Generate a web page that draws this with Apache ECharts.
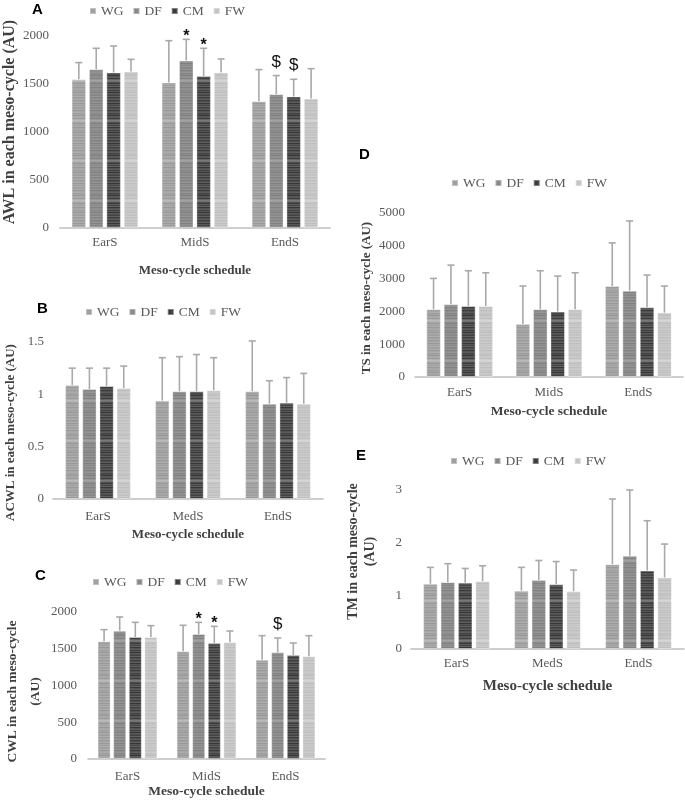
<!DOCTYPE html>
<html><head><meta charset="utf-8">
<script src="https://cdn.jsdelivr.net/npm/echarts@6/dist/echarts.min.js"></script>
<style>html,body{margin:0;padding:0;background:#fff}#c{width:685px;height:801px}</style>
</head><body><div id="c"></div>
<script>
// ---------------- DATA ----------------
const groups = ['WG', 'DF', 'CM', 'FW'];
const catsMid = ['EarS', 'MidS', 'EndS'];
const catsMed = ['EarS', 'MedS', 'EndS'];

// A: AWL (rows = WG, DF, CM, FW ; cols = categories)
const awlMeans = [[1549, 1515, 1321], [1653, 1744, 1393], [1619, 1584, 1369], [1629, 1619, 1348]];
const awlSD    = [[174, 436, 329], [219, 221, 195], [277, 288, 180], [128, 142, 312]];
const awlMarks = [['MidS', 'DF', '*'], ['MidS', 'CM', '*'], ['EndS', 'DF', '$'], ['EndS', 'CM', '$']];

// B: ACWL
const acwlMeans = [[1.09, 0.94, 1.03], [1.05, 1.03, 0.91], [1.08, 1.03, 0.92], [1.06, 1.04, 0.91]];
const acwlSD    = [[0.16, 0.41, 0.48], [0.20, 0.33, 0.22], [0.17, 0.35, 0.24], [0.21, 0.31, 0.29]];
const acwlMarks = [];

// C: CWL
const cwlMeans = [[1601, 1465, 1351], [1746, 1701, 1451], [1660, 1578, 1415], [1660, 1587, 1397]];
const cwlSD    = [[159, 354, 327], [186, 158, 195], [199, 227, 163], [154, 154, 281]];
const cwlMarks = [['MidS', 'DF', '*'], ['MidS', 'CM', '*'], ['EndS', 'DF', '$']];

// D: TS
const tsMeans = [[2065, 1619, 2773], [2217, 2065, 2632], [2166, 1994, 2126], [2166, 2065, 1964]];
const tsSD    = [[941, 1154, 1316], [1194, 1174, 2125], [1073, 1083, 981], [1012, 1113, 809]];
const tsMarks = [];

// E: TM
const tmMeans = [[1.23, 1.10, 1.60], [1.26, 1.30, 1.76], [1.25, 1.22, 1.48], [1.28, 1.09, 1.35]];
const tmSD    = [[0.31, 0.44, 1.23], [0.35, 0.37, 1.24], [0.27, 0.43, 0.94], [0.29, 0.40, 0.63]];
const tmMarks = [];

// axis scales
const yMaxes = [2000, 1.5, 2000, 5000, 3];
const yIntervals = [500, 0.5, 500, 1000, 1];

// ---------------- STYLE ----------------
const SERIF = 'Liberation Serif';
const SANS = 'Liberation Sans';
const baseShade = [0xa4, 0x8c, 0x4e, 0xc6];
const contrast = [1, 1, 1.9, 0.7];
const legendColors = ['#a0a0a0', '#888888', '#3c3c3c', '#c4c4c4'];
const stripeOffsets = [22, 18, 0, -10, 6, -4, 10, -12, 2, 8, -8, 4, -12, 6, 0, -6, 10, -10, 2, 6, -8, 0, 8, -12, 4, -4, 10, -8, 0, 6, -10, 2, 8, -6, 0, -12, 6, 4, -8, 10];

function hex(v) { v = Math.max(0, Math.min(255, Math.round(v))); return v.toString(16).padStart(2, '0'); }
function makePattern(gi) {
  const cv = document.createElement('canvas');
  cv.width = 4; cv.height = stripeOffsets.length;
  const ctx = cv.getContext('2d');
  stripeOffsets.forEach((o, i) => {
    const v = baseShade[gi] + o * contrast[gi];
    ctx.fillStyle = '#' + hex(v) + hex(v) + hex(v);
    ctx.fillRect(0, i, 4, 1);
  });
  return cv;
}
const patterns = groups.map((g, i) => makePattern(i));

const panels = [
  { letter: 'A', cats: catsMid, means: awlMeans, sd: awlSD, marks: awlMarks,
    grid: { left: 54, top: 36, width: 276, height: 192 }, bw: 14.5,
    yName: 'AWL in each meso-cycle (AU)', yNameSize: 16, yGap: 33, yPad: [0, 0, 0, 20], yLH: 18,
    xGap: 36, xNameSize: 13, labelMargin: 8, yLabelMargin: 11,
    title: [32, 2], legend: [89, 4] },
  { letter: 'B', cats: catsMed, means: acwlMeans, sd: acwlSD, marks: acwlMarks,
    grid: { left: 53, top: 342, width: 270, height: 157 }, bw: 14.3,
    yName: 'ACWL in each meso-cycle (AU)', yNameSize: 13, yGap: 35, yPad: [0, 24, 0, 0], yLH: 15,
    xGap: 29, xNameSize: 13, labelMargin: 11, yLabelMargin: 9,
    title: [37, 301], legend: [85, 305] },
  { letter: 'C', cats: catsMid, means: cwlMeans, sd: cwlSD, marks: cwlMarks,
    grid: { left: 85, top: 612, width: 240, height: 147 }, bw: 13,
    yName: 'CWL in each meso-cycle\n(AU)', yNameSize: 13.5, yGap: 41, yPad: [0, 12, 0, 0], yLH: 23,
    xGap: 26, xNameSize: 13.5, labelMargin: 11, yLabelMargin: 11,
    title: [35, 568], legend: [92, 575] },
  { letter: 'D', cats: catsMid, means: tsMeans, sd: tsSD, marks: tsMarks,
    grid: { left: 415, top: 213, width: 268, height: 164 }, bw: 14.5,
    yName: 'TS in each meso-cycle (AU)', yNameSize: 13, yGap: 41, yPad: [0, 6, 0, 0], yLH: 15,
    xGap: 28, xNameSize: 13.5, labelMargin: 9, yLabelMargin: 10,
    title: [359, 147], legend: [451, 176] },
  { letter: 'E', cats: catsMed, means: tmMeans, sd: tmSD, marks: tmMarks,
    grid: { left: 411, top: 490, width: 273, height: 159 }, bw: 14.5,
    yName: 'TM in each meso-cycle\n(AU)', yNameSize: 14, yGap: 32, yPad: [0, 0, 0, 36], yLH: 17,
    xGap: 30, xNameSize: 15, labelMargin: 8, yLabelMargin: 9,
    title: [356, 448], legend: [450, 454] }
];

const GAP_RATIO = 0.2;

function errRender(bw) {
  const step = bw * (1 + GAP_RATIO);
  return function (params, api) {
    const c = api.value(0), m = api.value(1), s = api.value(2), g = api.value(3);
    const p0 = api.coord([c, m]);
    const p1 = api.coord([c, m + s]);
    const x = p0[0] + (g - 1.5) * step;
    const st = { stroke: '#a9a9a9', lineWidth: 1.6 };
    return { type: 'group', children: [
      { type: 'line', shape: { x1: x, y1: p0[1], x2: x, y2: p1[1] }, style: st },
      { type: 'line', shape: { x1: x - 3.5, y1: p1[1], x2: x + 3.5, y2: p1[1] }, style: st }
    ] };
  };
}
const markSyms = {};
function markRender(bw) {
  const step = bw * (1 + GAP_RATIO);
  return function (params, api) {
    const c = api.value(0), top = api.value(1), g = api.value(2);
    const sym = markSyms[params.seriesIndex][params.dataIndex];
    const p = api.coord([c, top]);
    const x = p[0] + (g - 1.5) * step;
    const isStar = sym === '*';
    return { type: 'text', x: x, y: p[1] + (isStar ? 5 : -5),
      style: { text: sym, fill: '#111', font: (isStar ? 'bold 16px ' : '17px ') + SANS,
        textAlign: 'center', textVerticalAlign: 'bottom' } };
  };
}

const option = {
  animation: false,
  backgroundColor: '#fff',
  textStyle: { fontFamily: SERIF },
  title: [], legend: [], grid: [], xAxis: [], yAxis: [], series: []
};

panels.forEach((p, pi) => {
  option.title.push({ text: p.letter, left: p.title[0], top: p.title[1], padding: 0,
    textStyle: { fontFamily: SANS, fontWeight: 900, fontSize: 15, color: '#000' } });
  option.legend.push({ left: p.legend[0], top: p.legend[1], padding: 0, icon: 'rect',
    itemWidth: 6, itemHeight: 6, itemGap: 9, selectedMode: false,
    textStyle: { fontFamily: SERIF, fontSize: 13.5, color: '#595959' },
    data: groups.map((g, gi) => ({ name: g, itemStyle: { color: legendColors[gi] },
      textStyle: { fontFamily: SERIF, fontSize: 13.5, color: '#595959' } })) });
  option.grid.push(Object.assign({ containLabel: false }, p.grid));
  option.xAxis.push({ type: 'category', gridIndex: pi, data: p.cats,
    axisLine: { lineStyle: { color: '#bfbfbf', width: 1.6 } }, axisTick: { show: false },
    axisLabel: { fontFamily: SERIF, fontSize: 13, color: '#595959', margin: p.labelMargin },
    name: 'Meso-cycle schedule', nameLocation: 'middle', nameGap: p.xGap,
    nameTextStyle: { fontFamily: SERIF, fontWeight: 'bold', fontSize: p.xNameSize, color: '#404040' } });
  option.yAxis.push({ type: 'value', gridIndex: pi, min: 0, max: yMaxes[pi], interval: yIntervals[pi],
    splitLine: { show: false }, axisLine: { show: false }, axisTick: { show: false },
    axisLabel: { fontFamily: SERIF, fontSize: 13, color: '#595959', margin: p.yLabelMargin,
      formatter: v => String(v) },
    name: p.yName, nameLocation: 'middle', nameRotate: 90, nameGap: p.yGap,
    nameTextStyle: { fontFamily: SERIF, fontWeight: 'bold', fontSize: p.yNameSize, color: '#404040',
      lineHeight: p.yLH, padding: p.yPad } });
  groups.forEach((g, gi) => {
    option.series.push({ type: 'bar', name: g, xAxisIndex: pi, yAxisIndex: pi,
      data: p.means[gi], barWidth: p.bw, barGap: (GAP_RATIO * 100) + '%',
      itemStyle: { color: { image: patterns[gi], repeat: 'repeat' },
        borderColor: 'rgba(255,255,255,0.35)', borderWidth: 1 } });
  });
  const errData = [];
  groups.forEach((g, gi) => p.cats.forEach((c, ci) => errData.push([ci, p.means[gi][ci], p.sd[gi][ci], gi])));
  option.series.push({ type: 'custom', name: 'err' + p.letter, xAxisIndex: pi, yAxisIndex: pi, z: 5,
    renderItem: errRender(p.bw), data: errData, encode: { x: 0, y: 1 }, silent: true });
  if (p.marks.length) {
    const mData = [], syms = [];
    p.marks.forEach(([cat, grp, sym]) => {
      const ci = p.cats.indexOf(cat), gi = groups.indexOf(grp);
      mData.push([ci, p.means[gi][ci] + p.sd[gi][ci], gi]);
      syms.push(sym);
    });
    markSyms[option.series.length] = syms;
    option.series.push({ type: 'custom', name: 'mark' + p.letter, xAxisIndex: pi, yAxisIndex: pi, z: 6,
      renderItem: markRender(p.bw), data: mData, encode: { x: 0, y: 1 }, silent: true });
  }
});

const chart = echarts.init(document.getElementById('c'), null, { renderer: 'canvas' });
chart.setOption(option);
</script>
</body></html>
